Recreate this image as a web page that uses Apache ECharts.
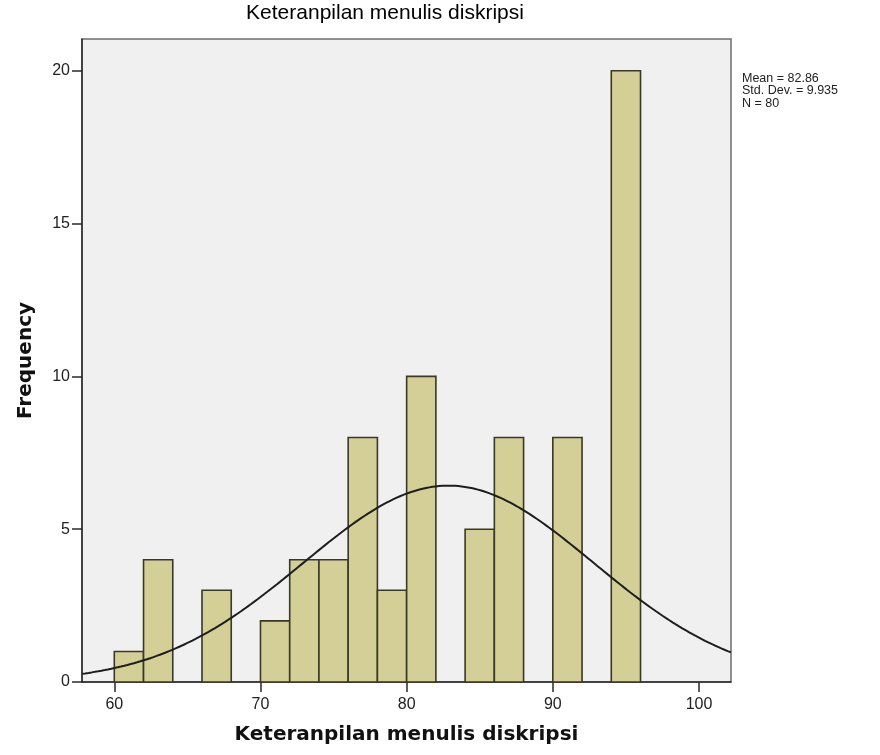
<!DOCTYPE html>
<html>
<head>
<meta charset="utf-8">
<script src="https://cdn.jsdelivr.net/npm/echarts@6/dist/echarts.min.js"></script>
<style>
  html, body { margin: 0; padding: 0; background: #ffffff; }
  #chart { width: 880px; height: 755px; }
</style>
</head>
<body>
<div id="chart"></div>
<script>
// Histogram bins: left edge of each 2-point bin and its frequency
const binStarts = [60, 62, 66, 70, 72, 74, 76, 78, 80, 84, 86, 90, 94];
const binWidth = 2;
const frequencies = [1, 4, 3, 2, 4, 4, 8, 3, 10, 5, 8, 8, 20];

// Axis ticks
const xTickValues = [60, 70, 80, 90, 100];
const yTickValues = [0, 5, 10, 15, 20];

// Summary statistics shown beside the plot
const statMean = 82.86;
const statStdDev = 9.935;
const statN = 80;

const titleText = 'Keteranpilan menulis diskripsi';
const xAxisTitle = 'Keteranpilan menulis diskripsi';
const yAxisTitle = 'Frequency';

const xMin = 57.79, xMax = 102.19;
const yMin = 0, yMax = 21.04;

// Fitted normal curve scaled to counts per bin: N * width * pdf(x)
const curvePoints = [];
for (let i = 0; i <= 200; i++) {
  const x = xMin + (xMax - xMin) * i / 200;
  const z = (x - statMean) / statStdDev;
  const pdf = Math.exp(-0.5 * z * z) / (statStdDev * Math.sqrt(2 * Math.PI));
  curvePoints.push([x, statN * binWidth * pdf]);
}

const barData = binStarts.map((s, i) => [s, s + binWidth, frequencies[i]]);

const chart = echarts.init(document.getElementById('chart'), null, { renderer: 'canvas' });

const labelFont = 'Liberation Sans, Arial, sans-serif';
const titleFont = 'DejaVu Sans, sans-serif';

chart.setOption({
  animation: false,
  backgroundColor: '#ffffff',
  graphic: [
    {
      type: 'text',
      x: 385,
      y: 13,
      style: {
        text: titleText,
        align: 'center',
        verticalAlign: 'middle',
        fontFamily: labelFont,
        fontSize: 21,
        fill: '#000000'
      }
    },
    {
      type: 'text',
      left: 742,
      top: 72,
      style: {
        text: 'Mean = ' + statMean.toFixed(2) + '\nStd. Dev. = ' + statStdDev.toFixed(3) + '\nN = ' + statN,
        fontFamily: labelFont,
        fontSize: 12.5,
        lineHeight: 12.5,
        fill: '#222222'
      }
    }
  ],
  grid: {
    left: 82,
    right: 149,
    top: 39,
    bottom: 73,
    show: true,
    backgroundColor: '#f0f0f0',
    borderColor: '#6e6e6e',
    borderWidth: 1.5
  },
  xAxis: {
    type: 'value',
    min: xMin,
    max: xMax,
    name: xAxisTitle,
    nameLocation: 'middle',
    nameGap: 43,
    nameTextStyle: {
      fontFamily: titleFont,
      fontSize: 20,
      fontWeight: 'bold',
      color: '#111111'
    },
    splitLine: { show: false },
    axisLine: { show: true, onZero: false, lineStyle: { color: '#2a2a2a', width: 1.5 } },
    axisTick: {
      show: true,
      customValues: xTickValues,
      length: 10,
      lineStyle: { color: '#2a2a2a', width: 1.5 }
    },
    axisLabel: {
      customValues: xTickValues,
      margin: 15,
      fontFamily: labelFont,
      fontSize: 16,
      color: '#222222'
    }
  },
  yAxis: {
    type: 'value',
    min: yMin,
    max: yMax,
    name: yAxisTitle,
    nameLocation: 'middle',
    nameGap: 46,
    nameRotate: 90,
    nameTextStyle: {
      fontFamily: titleFont,
      fontSize: 20,
      fontWeight: 'bold',
      color: '#111111'
    },
    splitLine: { show: false },
    axisLine: { show: true, lineStyle: { color: '#2a2a2a', width: 1.5 } },
    axisTick: {
      show: true,
      customValues: yTickValues,
      length: 10,
      lineStyle: { color: '#2a2a2a', width: 1.5 }
    },
    axisLabel: {
      customValues: yTickValues,
      margin: 12,
      fontFamily: labelFont,
      fontSize: 16,
      color: '#222222'
    }
  },
  series: [
    {
      type: 'custom',
      data: barData,
      encode: { x: [0, 1], y: 2 },
      renderItem: function (params, api) {
        const p0 = api.coord([api.value(0), api.value(2)]);
        const p1 = api.coord([api.value(1), 0]);
        return {
          type: 'rect',
          shape: { x: p0[0], y: p0[1], width: p1[0] - p0[0], height: p1[1] - p0[1] },
          style: { fill: '#d3cf96', stroke: '#3a3826', lineWidth: 1.6 }
        };
      },
      z: 2
    },
    {
      type: 'line',
      data: curvePoints,
      showSymbol: false,
      smooth: false,
      lineStyle: { color: '#1e1e1e', width: 2 },
      z: 3
    }
  ]
});
</script>
</body>
</html>
